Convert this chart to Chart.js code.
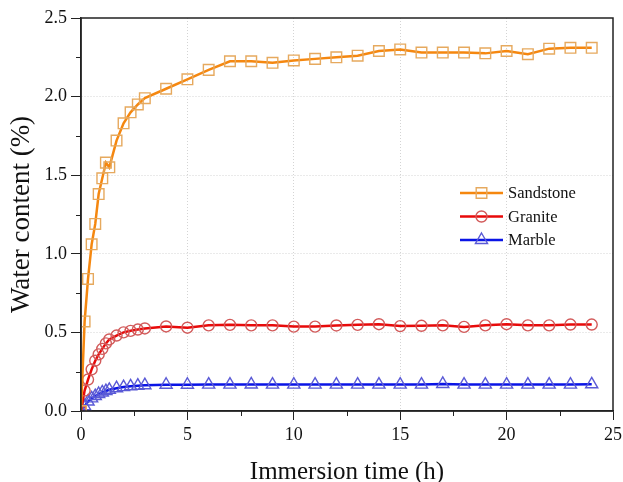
<!DOCTYPE html>
<html>
<head>
<meta charset="utf-8">
<script src="https://cdn.jsdelivr.net/npm/chart.js@4/dist/chart.umd.min.js"></script>
<style>
  html, body { margin: 0; padding: 0; background: #fff; overflow: hidden; }
  /* a little wider than the window so the "25" label is cut at the edge like the original */
  #wrap { width: 626px; height: 482px; position: relative; }
</style>
</head>
<body>
<div id="wrap"><canvas id="waterChart"></canvas></div>
<script>
const hours = [0, 0.17, 0.33, 0.5, 0.67, 0.83, 1, 1.17, 1.33, 1.67, 2, 2.33, 2.67, 3,
  4, 5, 6, 7, 8, 9, 10, 11, 12, 13, 14, 15, 16, 17, 18, 19, 20, 21, 22, 23, 24];

const sandstone = [0, 0.57, 0.84, 1.06, 1.19, 1.38, 1.48, 1.58, 1.55, 1.72, 1.83, 1.90, 1.95, 1.99,
  2.05, 2.11, 2.17, 2.225, 2.225, 2.215, 2.23, 2.24, 2.25, 2.26, 2.29, 2.30, 2.28, 2.28, 2.28, 2.275,
  2.29, 2.27, 2.305, 2.31, 2.31];

const granite = [0, 0.13, 0.2, 0.265, 0.32, 0.36, 0.395, 0.43, 0.455, 0.48, 0.5, 0.51, 0.518, 0.525,
  0.538, 0.53, 0.545, 0.548, 0.545, 0.545, 0.537, 0.537, 0.544, 0.548, 0.552, 0.54, 0.542, 0.545,
  0.535, 0.545, 0.552, 0.545, 0.545, 0.55, 0.55];

const marble = [0, 0.03, 0.06, 0.08, 0.095, 0.108, 0.118, 0.127, 0.135, 0.145, 0.152, 0.157, 0.161, 0.164,
  0.167, 0.167, 0.168, 0.168, 0.169, 0.168, 0.168, 0.168, 0.168, 0.168, 0.168, 0.168, 0.168, 0.172,
  0.168, 0.168, 0.168, 0.168, 0.168, 0.168, 0.17];

const seriesNames = ["Sandstone", "Granite", "Marble"];
const xTicks = [0, 5, 10, 15, 20, 25];
const yTicks = [0, 0.5, 1.0, 1.5, 2.0, 2.5];

const serif = "'Liberation Serif', 'Times New Roman', serif";

function toPoints(values) {
  return hours.map((h, i) => ({ x: h, y: values[i] }));
}

const styles = [
  { line: "#f5870f", marker: "#e6a95e", pointStyle: "rect", radius: 7.5 },
  { line: "#e80a0a", marker: "#d25a5a", pointStyle: "circle", radius: 5.5 },
  { line: "#0a14e6", marker: "#5a5ad6", pointStyle: "triangle", radius: 7 },
];

const datasets = [sandstone, granite, marble].map((values, i) => ({
  label: seriesNames[i],
  data: toPoints(values),
  borderColor: styles[i].line,
  borderWidth: 2.5,
  backgroundColor: "rgba(0,0,0,0)",
  pointStyle: styles[i].pointStyle,
  pointRadius: styles[i].radius,
  pointBorderColor: styles[i].marker,
  pointBackgroundColor: "rgba(0,0,0,0)",
  pointBorderWidth: 1.4,
  tension: 0,
}));

// frame, minor ticks and the legend box
const decorPlugin = {
  id: "decor",
  afterDraw(chart) {
    const { ctx, chartArea, scales } = chart;
    const { left, right, top, bottom } = chartArea;
    ctx.save();

    ctx.strokeStyle = "#222";
    ctx.lineWidth = 1;
    for (let v = 2.5; v < 25; v += 5) {
      const px = Math.round(scales.x.getPixelForValue(v)) + 0.5;
      ctx.beginPath();
      ctx.moveTo(px, bottom);
      ctx.lineTo(px, bottom + 5);
      ctx.stroke();
    }
    for (let v = 0.25; v < 2.5; v += 0.5) {
      const py = Math.round(scales.y.getPixelForValue(v)) + 0.5;
      ctx.beginPath();
      ctx.moveTo(left - 5, py);
      ctx.lineTo(left, py);
      ctx.stroke();
    }

    ctx.strokeStyle = "#222";
    ctx.lineWidth = 1.5;
    ctx.strokeRect(left, top, right - left, bottom - top);

    // legend
    const rowY = [193, 216.5, 240];
    ctx.font = "16.5px " + serif;
    ctx.textBaseline = "middle";
    ctx.textAlign = "left";
    datasets.forEach((ds, i) => {
      const y = rowY[i];
      ctx.strokeStyle = styles[i].line;
      ctx.lineWidth = 2.5;
      ctx.beginPath();
      ctx.moveTo(460, y);
      ctx.lineTo(503, y);
      ctx.stroke();
      ctx.strokeStyle = styles[i].marker;
      ctx.fillStyle = "rgba(0,0,0,0)";
      ctx.lineWidth = 1.4;
      Chart.helpers.drawPoint(ctx, {
        pointStyle: styles[i].pointStyle,
        radius: styles[i].radius,
        rotation: 0,
        borderWidth: 1.4,
      }, 481.5, y);
      ctx.fillStyle = "#111";
      ctx.fillText(ds.label, 508, y + 1);
    });

    ctx.restore();
  },
};

new Chart(document.getElementById("waterChart"), {
  type: "line",
  data: { datasets },
  options: {
    responsive: true,
    maintainAspectRatio: false,
    animation: false,
    layout: { padding: { top: 18, right: 3, left: 0, bottom: 0 } },
    plugins: {
      legend: { display: false },
      tooltip: { enabled: false },
    },
    scales: {
      x: {
        type: "linear",
        min: 0,
        max: 25,
        afterFit: (scale) => { scale.height = 71; },
        afterBuildTicks: (scale) => { scale.ticks = xTicks.map((v) => ({ value: v })); },
        ticks: {
          color: "#111",
          font: { family: serif, size: 18 },
          padding: 4,
          maxRotation: 0,
        },
        grid: {
          color: (c) => (c.tick && c.tick.value > 0 && c.tick.value < 25 ? "#d4d4d4" : "rgba(0,0,0,0)"),
          tickColor: "#222",
          tickLength: 9,
          tickWidth: 1,
          lineWidth: 1,
        },
        border: { display: true, color: "#222", width: 1.5, dash: [1, 2] },
        title: {
          display: true,
          text: "Immersion time (h)",
          color: "#111",
          font: { family: serif, size: 25 },
          padding: { top: 0, bottom: -5 },
        },
      },
      y: {
        type: "linear",
        min: 0,
        max: 2.5,
        afterFit: (scale) => { scale.width = 81; },
        afterBuildTicks: (scale) => { scale.ticks = yTicks.map((v) => ({ value: v })); },
        ticks: {
          color: "#111",
          font: { family: serif, size: 18 },
          padding: 4,
          callback: (v) => Number(v).toFixed(1),
        },
        grid: {
          color: (c) => (c.tick && c.tick.value > 0 && c.tick.value < 2.5 ? "#d4d4d4" : "rgba(0,0,0,0)"),
          tickColor: "#222",
          tickLength: 10,
          tickWidth: 1,
          lineWidth: 1,
        },
        border: { display: true, color: "#222", width: 1.5, dash: [1, 2] },
        title: {
          display: true,
          text: "Water content (%)",
          color: "#111",
          font: { family: serif, size: 27 },
          padding: { top: 6, bottom: 0 },
        },
      },
    },
  },
  plugins: [decorPlugin],
});
</script>
</body>
</html>
